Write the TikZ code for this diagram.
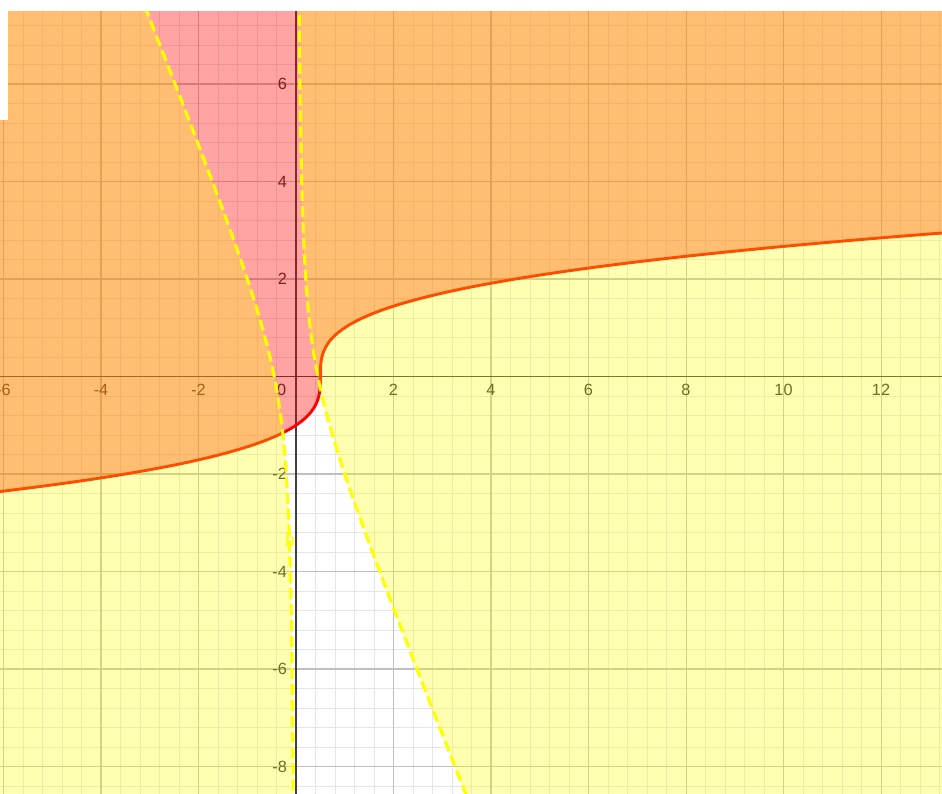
\documentclass[tikz,border=0pt]{standalone}
\usepackage{fontspec}
\setmainfont{Liberation Sans}
\usepackage{tikz}
\definecolor{ggred}{HTML}{FF0000}
\definecolor{ggyellow}{HTML}{FFFF00}
\definecolor{ggminor}{HTML}{E6E6E6}
\definecolor{ggmajor}{HTML}{C0C0C0}
\definecolor{ggaxis}{HTML}{404040}
\definecolor{ggtext}{HTML}{303030}
\tikzset{
	gminor/.style={draw=ggminor, line width=0.55pt},
	gmajor/.style={draw=ggmajor, line width=0.6pt},
	gaxis/.style={draw=ggaxis, line width=1.15pt},
	glabel/.style={font=\fontsize{9.5}{11}\selectfont, text=ggtext, inner sep=0pt},
	redfill/.style={fill=ggred, fill opacity=0.36},
	yelfill/.style={fill=ggyellow, fill opacity=0.3},
	cubicline/.style={draw=ggred, line width=1.7pt},
	hypline/.style={draw=ggyellow, line width=1.8pt, dash pattern=on 6.5pt off 2.8pt}
}

\begin{document}
\begin{tikzpicture}
	\useasboundingbox (-6.072,-8.544) rectangle (13.251,7.723);
	\fill[white] (-6.072,-8.544) rectangle (13.251,7.723);
	\begin{scope}
		\clip (-6.072,-8.544) rectangle (13.251,7.497);
		% grid
		\foreach \i in {-15,...,33}
			\draw[gminor] (\i*0.4,-8.6) -- (\i*0.4,7.6);
		\foreach \i in {-21,...,18}
			\draw[gminor] (-6.1,\i*0.4) -- (13.3,\i*0.4);
		\foreach \x in {-6,-4,...,12}
			\draw[gmajor] (\x,-8.6) -- (\x,7.6);
		\foreach \y in {-8,-6,...,6}
			\draw[gmajor] (-6.1,\y) -- (13.3,\y);
		% axes
		\draw[gaxis] (-6.1,0) -- (13.3,0);
		\draw[gaxis] (0,-8.6) -- (0,7.6);
		\foreach \x in {-6,-4,-2,2,4,6,8,10,12}
			\node[glabel] (xt\x) at (\x,-0.28) {\x};
		\foreach \y in {-8,-6,-4,-2,2,4,6}
			\node[glabel, anchor=east] (yt\y) at (-0.18,\y) {\y};
		\node[glabel] (origin) at (-0.297,-0.277) {0};
		% region a
		\fill[redfill] plot[domain=-2.5:3.0, samples=120, variable=\t] ({((\t)*(\t)*(\t)+1)/2},\t)
			-- (14,8) -- (-8,8) -- cycle;
		\draw[cubicline] plot[domain=-2.5:3.0, samples=160, variable=\t] ({((\t)*(\t)*(\t)+1)/2},\t);
		% region b
		\fill[yelfill] plot[domain=7.6:-8.6, samples=160, variable=\t] ({(-(\t)-sqrt((\t)*(\t)+5))/5},\t)
			-- (-7,-8.6) -- (-7,7.6) -- cycle;
		\fill[yelfill] plot[domain=-8.6:7.6, samples=160, variable=\t] ({(-(\t)+sqrt((\t)*(\t)+5))/5},\t)
			-- (14,7.6) -- (14,-8.6) -- cycle;
		\draw[hypline] plot[domain=7.6:-8.6, samples=160, variable=\t] ({(-(\t)-sqrt((\t)*(\t)+5))/5},\t);
		\draw[hypline] plot[domain=-8.6:7.6, samples=160, variable=\t] ({(-(\t)+sqrt((\t)*(\t)+5))/5},\t);
		\node[glabel, font=\fontsize{10.5}{12}\selectfont, text=ggyellow] (blabel) at (-0.12,-3.36) {b};
	\end{scope}
	\fill[white] (-6.072,5.26) rectangle (-5.908,7.497);
\end{tikzpicture}
\end{document}
